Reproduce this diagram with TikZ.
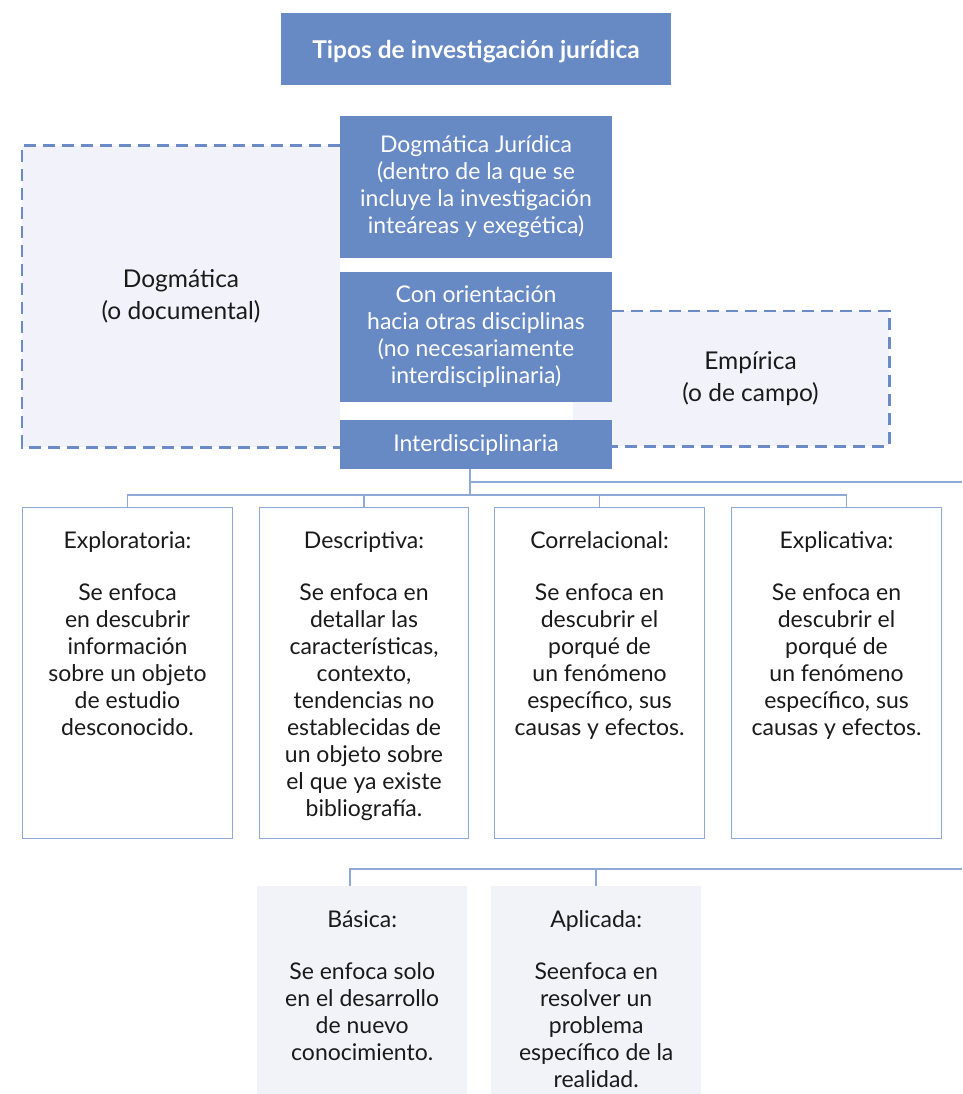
\documentclass[tikz,border=0pt]{standalone}
\usepackage{fontspec}
\setmainfont{Lato}
\usepackage{tikz}
\definecolor{mainblue}{HTML}{6789C4}
\definecolor{paleblue}{HTML}{F1F2FA}
\definecolor{lineblue}{HTML}{8EA8D8}
\definecolor{dashblue}{HTML}{6A8BC6}
\definecolor{panelgray}{HTML}{F2F3F8}
\definecolor{ink}{HTML}{1A1A1A}

\newcommand{\boxtxt}[4]{\parbox[c][#1][t]{#2}{\centering\rule{0pt}{41pt}#3\\[25pt]#4}}

\begin{document}
\begin{tikzpicture}[x=1pt,y=-1pt,font=\fontsize{23}{27}\selectfont,text=ink]
    \tikzstyle{bluebox}=[fill=mainblue, text=white, inner sep=0pt, align=center]
    \tikzstyle{dashbox}=[fill=paleblue, inner sep=0pt, align=center, font=\fontsize{24.5}{32}\selectfont]
    \tikzstyle{dashedge}=[draw=dashblue, line width=2.6pt, dash pattern=on 12pt off 7pt]
    \tikzstyle{tipo}=[draw=lineblue, line width=1pt, inner sep=0pt, anchor=north west]
    \tikzstyle{nivel}=[fill=panelgray, inner sep=0pt, anchor=north west]
    \tikzstyle{link}=[draw=lineblue, line width=1.5pt]
    \useasboundingbox (0,0) rectangle (962,1094);

    % dashed groups behind the blue column
	\node [dashbox, minimum width=318pt, minimum height=301pt] (dog) at (181,296.5) {Dogmática\\(o documental)};
	\draw [dashedge] (dog.north east) -- (dog.north west) -- (dog.south west) -- (dog.south east);

	\node [dashbox, minimum width=277pt, minimum height=135pt] (emp) at (750.5,378.5) {Empírica\\(o de campo)};
	\fill [paleblue] (emp.north west) ++(-39,0) rectangle (emp.south west);
	\draw [dashedge] (emp.north west) -- (emp.north east) -- (emp.south east) -- (emp.south west);

	\node [bluebox, minimum width=390pt, minimum height=72pt, text depth=0pt, font=\bfseries\fontsize{24.5}{28}\selectfont] (title) at (476,49) {Tipos de investigación jurídica};

	\node [bluebox, minimum width=272pt, minimum height=142pt] (dogj) at (476,187) {Dogmática Jurídica\\(dentro de la que se\\incluye la investigación\\inteáreas y exegética)};
	\node [bluebox, minimum width=272pt, minimum height=130pt] (orient) at (476,337) {Con orientación\\hacia otras disciplinas\\(no necesariamente\\interdisciplinaria)};
	\node [bluebox, minimum width=272pt, minimum height=49pt] (inter) at (476,444.5) {Interdisciplinaria};

	\node [tipo] (explo) at (22,507) {\boxtxt{331pt}{210pt}{Exploratoria:}{Se enfoca\\en descubrir\\información\\sobre un objeto\\de estudio\\desconocido.}};
	\node [tipo] (descr) at (259,507) {\boxtxt{331pt}{209pt}{Descriptiva:}{Se enfoca en\\detallar las\\características,\\contexto,\\tendencias no\\establecidas de\\un objeto sobre\\el que ya existe\\bibliografía.}};
	\node [tipo] (corre) at (494,507) {\boxtxt{331pt}{210pt}{Correlacional:}{Se enfoca en\\descubrir el\\porqué de\\un fenómeno\\específico, sus\\causas y efectos.}};
	\node [tipo] (expli) at (731,507) {\boxtxt{331pt}{210pt}{Explicativa:}{Se enfoca en\\descubrir el\\porqué de\\un fenómeno\\específico, sus\\causas y efectos.}};

	\node [nivel] (bas) at (257,886) {\boxtxt{208pt}{210pt}{Básica:}{Se enfoca solo\\en el desarrollo\\de nuevo\\conocimiento.}};
	\node [nivel] (apl) at (491,886) {\boxtxt{208pt}{210pt}{Aplicada:}{Seenfoca en\\resolver un\\problema\\específico de la\\realidad.}};

	\coordinate (bus) at (0,495);
	\coordinate (drop) at ([xshift=-6pt]inter.south);
	\coordinate (exit1) at (962,482);
	\coordinate (exit2) at (962,869);

	\draw [link] (drop) -- (drop |- bus);
	\foreach \b in {explo,descr,corre}
	    \draw [link] (drop |- bus) -| (\b.north);
	\draw [link] (drop |- bus) -| ([xshift=10pt]expli.north);
	\draw [link] (drop |- exit1) -- (exit1);
	\draw [link] (exit2) -| ([xshift=-12pt]bas.north);
	\draw [link] (exit2) -| (apl.north);
\end{tikzpicture}
\end{document}
